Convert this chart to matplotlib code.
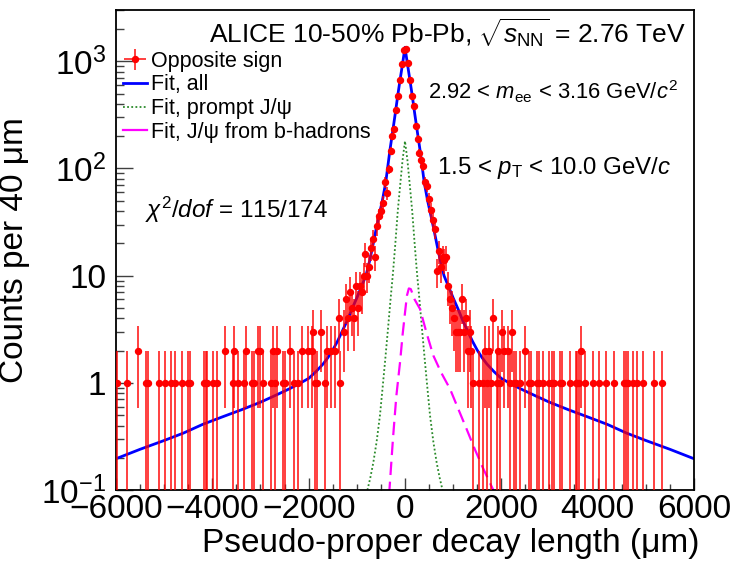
import numpy as np
import matplotlib
matplotlib.use('Agg')
import matplotlib.pyplot as plt
from matplotlib.lines import Line2D
from matplotlib.ticker import MultipleLocator, LogLocator, NullFormatter

plt.rcParams['font.family'] = ['Liberation Sans', 'DejaVu Sans']
plt.rcParams['mathtext.fontset'] = 'custom'
plt.rcParams['mathtext.rm'] = 'Liberation Sans'
plt.rcParams['mathtext.it'] = 'Liberation Sans:italic'
plt.rcParams['mathtext.bf'] = 'Liberation Sans:bold'

# opposite-sign pairs, counts per 40 um bin (bin centres in um)
tail_left_x = [-5980, -5780, -5540, -5380, -5340, -5100, -4980, -4860, -4780, -4620,
               -4500, -4460, -4180, -4140, -4100, -3980, -3900, -3740, -3580, -3540,
               -3460, -3340, -3300, -3180, -3140, -3060, -3020, -2940, -2780, -2740,
               -2700, -2660, -2540, -2500, -2380, -2300, -2220, -2140, -2020, -1940,
               -1900, -1860, -1820, -1740, -1660, -1620, -1540, -1460, -1380, -1340,
               -1260]
tail_left_n = [1, 1, 2, 1, 1, 1, 1, 1, 1, 1,
               1, 1, 1, 1, 1, 1, 1, 2, 1, 2,
               1, 1, 2, 1, 1, 2, 2, 1, 1, 2,
               1, 2, 1, 1, 2, 1, 1, 2, 2, 2,
               3, 1, 1, 3, 1, 2, 2, 2, 4, 1,
               3]

core_x = [-1220, -1180, -1140, -1100, -1060, -1020, -980, -940, -900, -860,
          -820, -780, -740, -700, -660, -620, -580, -540, -500, -460,
          -420, -380, -340, -300, -260, -220, -180, -140, -100, -60,
          -20, 20, 60, 100, 140, 180, 220, 260, 300, 340,
          380, 420, 460, 500, 540, 580, 620, 660, 700, 740,
          780, 820, 860, 900, 940, 980, 1020, 1060, 1100, 1140,
          1180, 1220, 1260, 1300, 1340, 1380]
core_n = [6, 4, 7, 5, 4, 8, 5, 8, 7, 10,
          16, 10, 12, 18, 22, 15, 29, 36, 40, 48,
          74, 59, 98, 145, 200, 231, 354, 470, 675, 948,
          1280, 1290, 962, 673, 471, 380, 247, 190, 140, 121,
          105, 74, 68, 52, 41, 33, 27, 11, 17, 12,
          15, 14, 15, 8, 6, 5, 4, 3, 3, 3,
          6, 3, 4, 2, 3, 2]

tail_right_x = [1420, 1540, 1620, 1660, 1700, 1740, 1780, 1820, 1900, 1940,
                1980, 2020, 2060, 2140, 2180, 2220, 2260, 2300, 2380, 2500,
                2580, 2620, 2740, 2780, 2860, 2980, 3060, 3100, 3220, 3260,
                3420, 3540, 3580, 3620, 3660, 3740, 3900, 4020, 4180, 4340,
                4540, 4580, 4620, 4740, 4820, 4940, 5180, 5340]
tail_right_n = [1, 1, 1, 2, 1, 2, 1, 4, 1, 2,
                1, 3, 2, 2, 1, 3, 1, 1, 1, 2,
                1, 1, 1, 1, 1, 1, 1, 1, 1, 1,
                1, 1, 1, 1, 2, 1, 1, 1, 1, 1,
                1, 1, 1, 1, 1, 1, 1, 1]

# fit, all
fit_x = [-6000, -5500, -5000, -4600, -4200, -3800, -3400, -3000, -2700, -2400,
         -2200, -2000, -1850, -1700, -1600, -1500, -1400, -1300, -1200, -1100, -1000,
         -900, -810, -730, -658, -600, -540, -470, -400, -311, -250,
         -200, -150, -100, -50, 0, 50, 100, 150, 200, 250,
         311, 400, 470, 540, 600, 658, 730, 810, 900, 1000,
         1100, 1200, 1300, 1400, 1500, 1600, 1700, 1850, 2000, 2200, 2400,
         2700, 3000, 3400, 3800, 4200, 4600, 5000, 5500, 6000]
fit_y = [0.196, 0.24, 0.29, 0.34, 0.41, 0.48, 0.56, 0.66, 0.76, 0.88,
         0.98, 1.1, 1.27, 1.5, 1.72, 2.02, 2.45, 3.05, 3.8, 4.9, 6.2,
         8.0, 10, 14, 20, 27, 36, 50, 74, 150, 230,
         330, 480, 680, 950, 1350, 950, 680, 480, 330, 230,
         150, 74, 50, 36, 27, 20, 14, 10, 8.0, 6.2,
         4.9, 3.8, 3.05, 2.45, 2.02, 1.72, 1.5, 1.27, 1.1, 0.98, 0.88,
         0.76, 0.66, 0.56, 0.48, 0.41, 0.34, 0.29, 0.24, 0.196]

# fit, prompt J/psi
prompt_x = [-780, -720, -658, -590, -519, -470, -415, -350, -300, -250,
            -200, -150, -100, -50, 0, 50, 100, 150, 200, 250,
            300, 350, 415, 470, 519, 590, 658, 720, 780]
prompt_y = [0.1, 0.13, 0.18, 0.28, 0.5, 0.85, 1.56, 3.3, 6, 10.5,
            20, 40, 70, 120, 180, 120, 70, 40, 20, 10.5,
            6, 3.3, 1.56, 0.85, 0.5, 0.28, 0.18, 0.13, 0.1]

# fit, J/psi from b-hadrons
nonprompt_x = [-330, -250, -180, -100, -50, 0, 40, 80, 120, 200,
               311, 450, 588, 750, 934, 1100, 1280, 1450, 1626, 1834, 1900]
nonprompt_y = [0.09, 0.3, 0.75, 1.6, 2.8, 4.5, 6.5, 7.6, 7.5, 6.0,
               4.9, 2.9, 1.8, 1.25, 0.88, 0.58, 0.37, 0.24, 0.158, 0.1, 0.088]

x = np.array(tail_left_x + core_x + tail_right_x, dtype=float)
n = np.array(tail_left_n + core_n + tail_right_n, dtype=float)
err_hi = np.sqrt(n)
err_lo = np.minimum(err_hi, n - 0.01)

fig = plt.figure(figsize=(7.34, 5.62), dpi=100)
ax = fig.add_axes([0.158, 0.128, 0.7875, 0.854])
ax.set_yscale('log')

l_all, = ax.plot(fit_x, fit_y, color='#0000ff', lw=2.0, zorder=2)
l_prompt, = ax.plot(prompt_x, prompt_y, color='#2a8a2a', lw=1.3,
                    linestyle=(0, (1, 1.3)), zorder=2)
l_np, = ax.plot(nonprompt_x, nonprompt_y, color='#ff00ff', lw=1.6,
                linestyle=(0, (6, 3)), zorder=2)

eb = ax.errorbar(x, n, yerr=[err_lo, err_hi], xerr=20, fmt='o', color='red',
                 ms=4.3, elinewidth=1.2, capsize=0, zorder=3)
for lc in eb[2]:
    lc.set_alpha(0.88)

ax.set_xlim(-6000, 6000)
ax.set_ylim(0.1, 3000)

ax.xaxis.set_major_locator(MultipleLocator(2000))
ax.xaxis.set_minor_locator(MultipleLocator(500))
ax.set_yticks([0.1, 1, 10, 100, 1000])
ax.set_yticklabels([r'$10^{-1}$', '1', '10', r'$10^{2}$', r'$10^{3}$'])
ax.yaxis.set_minor_locator(LogLocator(base=10, subs=np.arange(2, 10)))
ax.yaxis.set_minor_formatter(NullFormatter())

ax.tick_params(which='both', direction='in', top=False, right=False,
               color='0.25', width=1)
ax.tick_params(axis='y', which='major', length=12, pad=7, labelsize=24)
ax.tick_params(axis='y', which='minor', length=6)
ax.tick_params(axis='x', which='major', length=9, pad=3, labelsize=24)
ax.tick_params(axis='x', which='minor', length=4.5)
for s in ax.spines.values():
    s.set_linewidth(1.3)

ax.set_xlabel('Pseudo-proper decay length (μm)', fontsize=24, loc='right')
ax.xaxis.set_label_coords(1.01, -0.08, transform=ax.transAxes)
ax.xaxis.label.set_va('top')
ax.set_ylabel('Counts per 40 μm', fontsize=24, labelpad=8)

ax.text(0.986, 0.985, r'ALICE 10-50% Pb-Pb, $\sqrt{s_{\rm NN}}$ = 2.76 TeV',
        transform=ax.transAxes, ha='right', va='top', fontsize=19)
ax.text(0.54, 0.829, r'2.92 < $m_{\rm ee}$ < 3.16 GeV/$c^{2}$',
        transform=ax.transAxes, ha='left', va='center', fontsize=15.8)
ax.text(0.555, 0.671, r'1.5 < $p_{\rm T}$ < 10.0 GeV/$c$',
        transform=ax.transAxes, ha='left', va='center', fontsize=17.3)
ax.text(0.05, 0.583, r'$\chi^{2}/dof$ = 115/174',
        transform=ax.transAxes, ha='left', va='center', fontsize=17.5)

np_handle = Line2D([], [], color='#ff00ff', lw=1.6)
ax.legend([eb, l_all, l_prompt, np_handle],
          ['Opposite sign', 'Fit, all', 'Fit, prompt J/ψ', 'Fit, J/ψ from b-hadrons'],
          loc='upper left', bbox_to_anchor=(0.012, 0.915), frameon=False,
          fontsize=15.5, handlelength=1.1, handletextpad=0.2, labelspacing=0.12,
          borderpad=0, borderaxespad=0)

fig.savefig('out.png', dpi=100)
